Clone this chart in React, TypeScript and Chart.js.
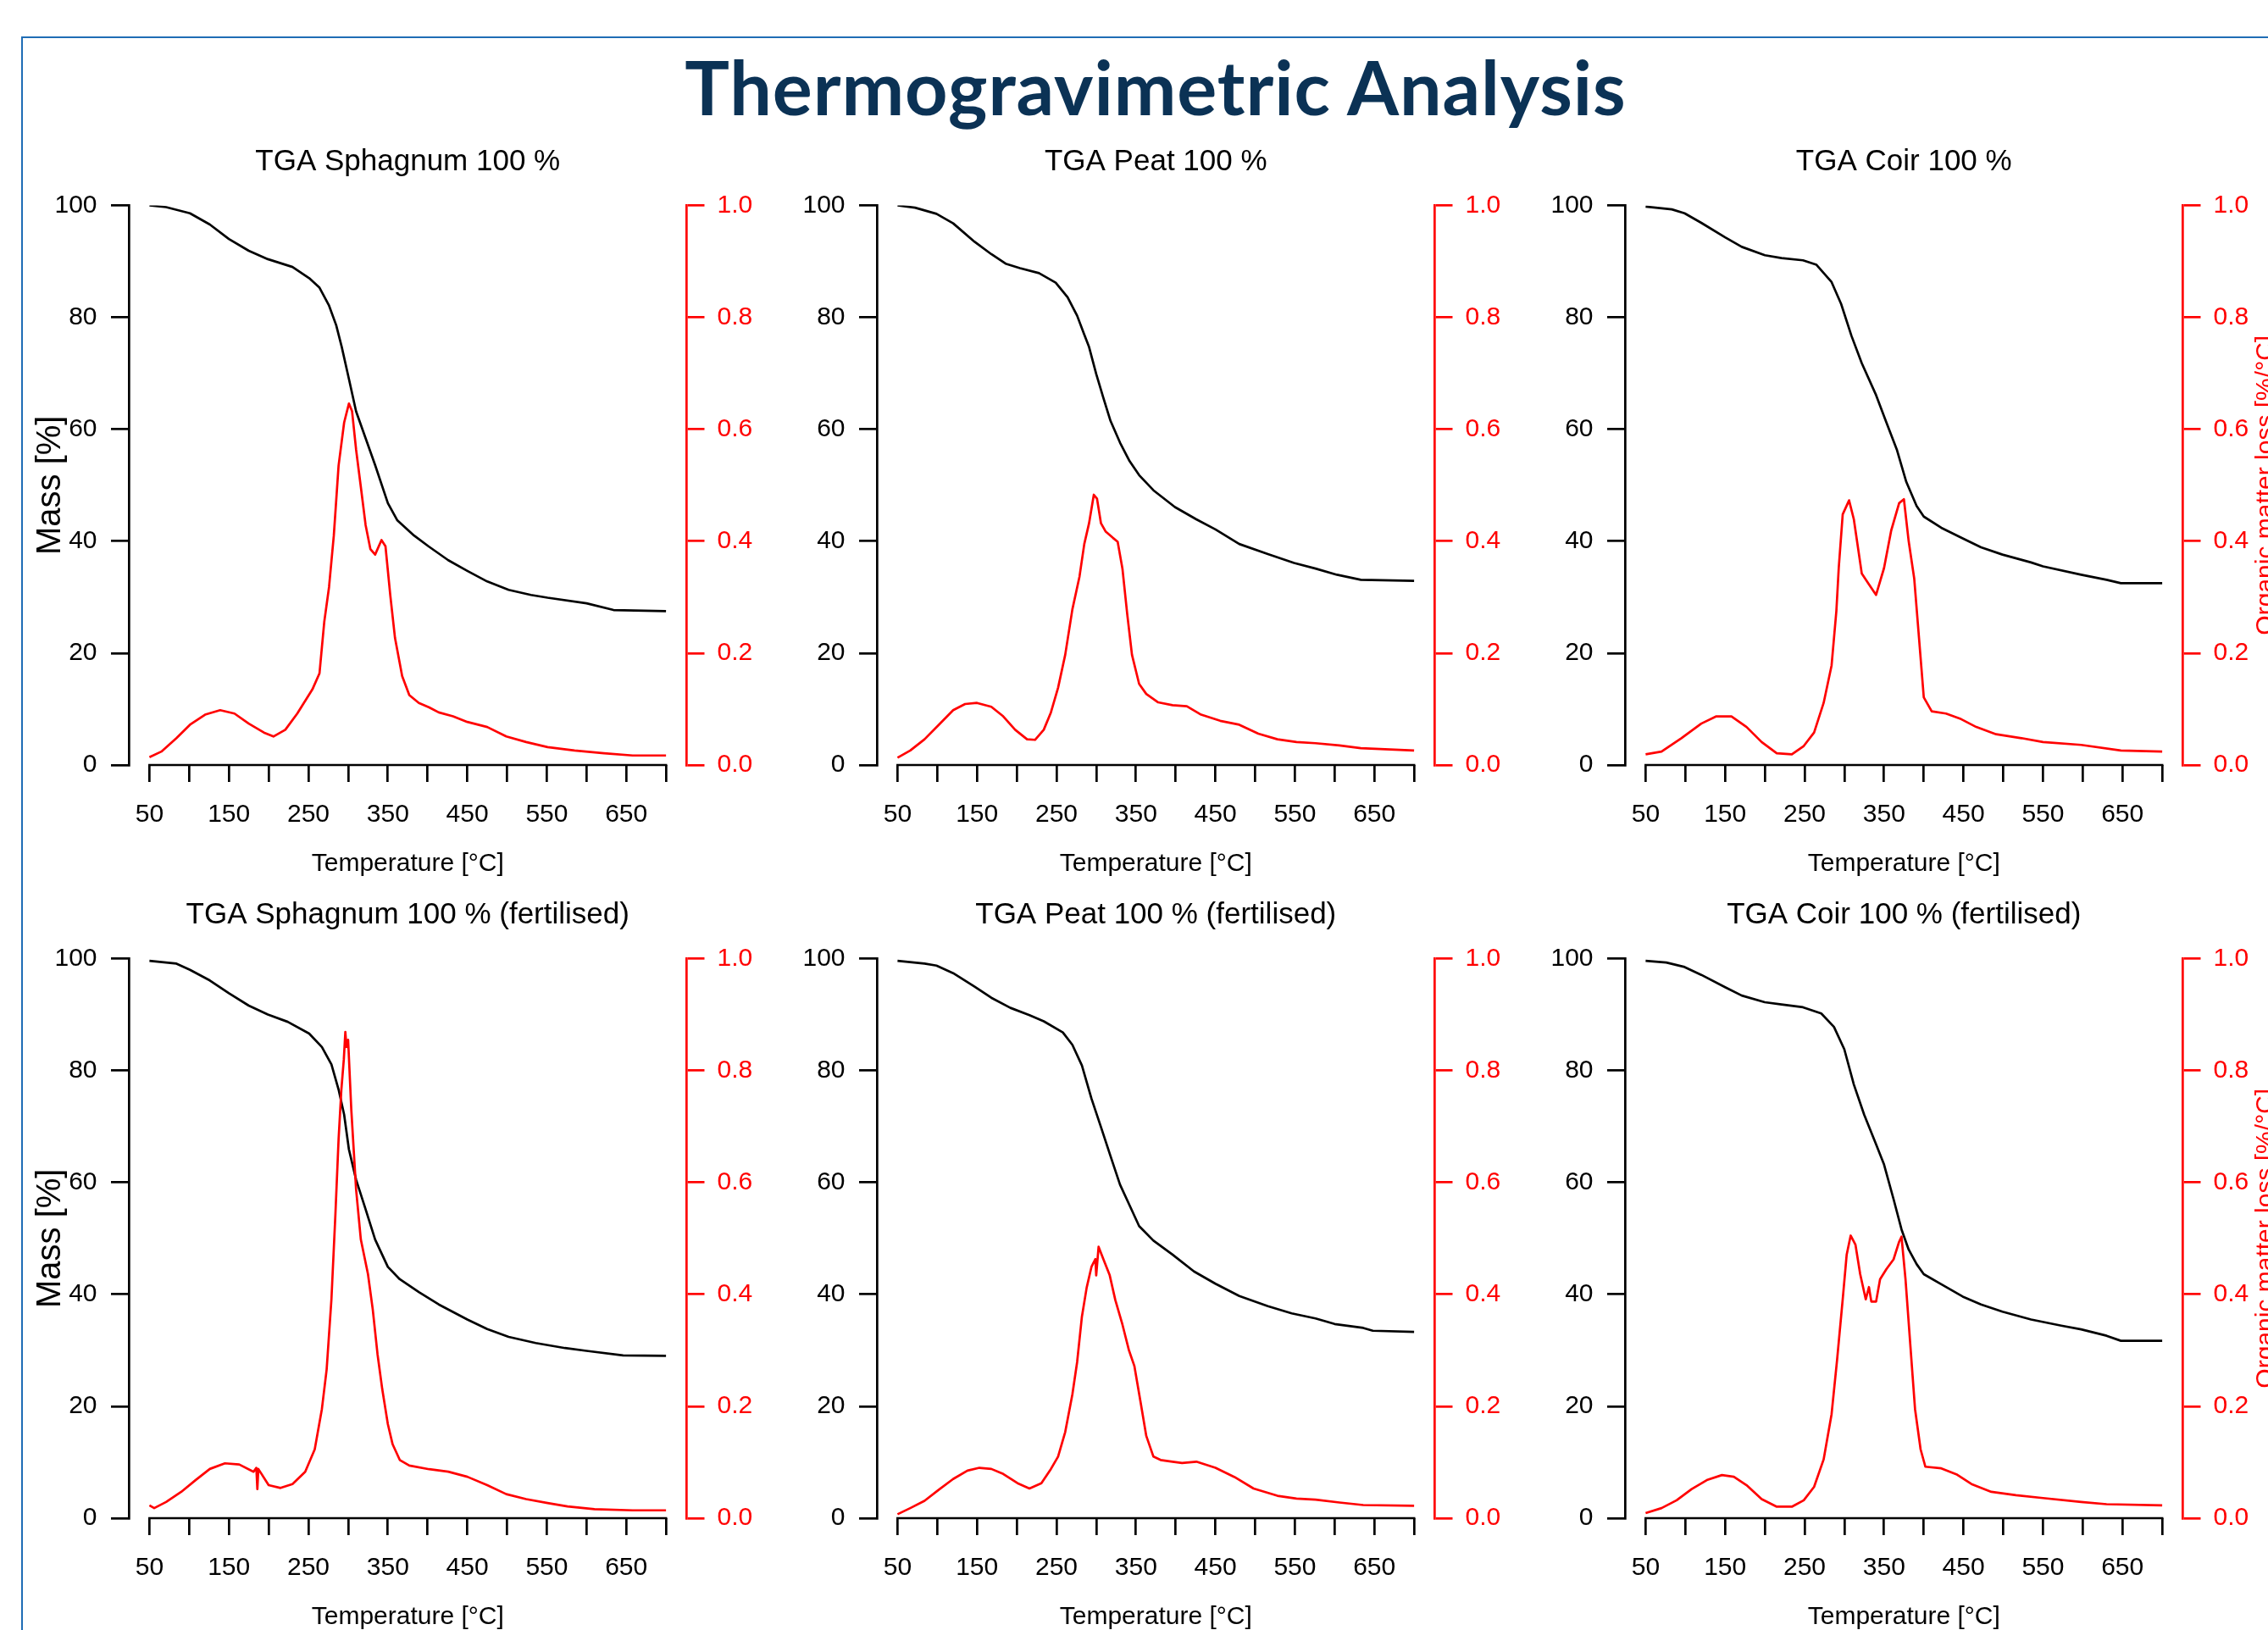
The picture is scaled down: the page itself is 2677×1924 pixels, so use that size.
import React, { useEffect, useRef } from 'react';
import { Chart, registerables } from 'chart.js';

Chart.register(...registerables);

const FONT = "'Liberation Sans', Arial, Helvetica, sans-serif";

// ---- axis ticks ----
const X_TICKS = [50, 100, 150, 200, 250, 300, 350, 400, 450, 500, 550, 600, 650, 700];
const X_LABELLED = [50, 150, 250, 350, 450, 550, 650];
const MASS_TICKS = [0, 20, 40, 60, 80, 100];
const DTG_TICKS = [0, 0.2, 0.4, 0.6, 0.8, 1.0];

const MAIN_TITLE = 'Thermogravimetric Analysis';
const PANEL_TITLES = [
  'TGA Sphagnum 100 %',
  'TGA Peat 100 %',
  'TGA Coir 100 %',
  'TGA Sphagnum 100 % (fertilised)',
  'TGA Peat 100 % (fertilised)',
  'TGA Coir 100 % (fertilised)',
];

// ---- Sphagnum 100 % ----
const SPH_T_MASS = [50, 71, 101, 126, 150, 175, 199, 230, 251, 264, 276, 285, 292, 301, 310, 322, 334, 350, 362, 383, 401, 426, 450, 475, 502, 530, 551, 600, 634, 700];
const SPH_MASS = [100, 99.7, 98.6, 96.6, 94.0, 91.9, 90.4, 89.0, 87.0, 85.3, 82.1, 78.6, 74.7, 69.0, 63.2, 58.4, 53.6, 46.8, 43.7, 41.0, 39.1, 36.6, 34.7, 32.8, 31.3, 30.4, 29.9, 28.9, 27.7, 27.5];
const SPH_T_DTG = [50, 65, 84, 101, 120, 139, 157, 175, 194, 206, 221, 236, 255, 264, 270, 276, 282, 288, 295, 301, 305, 310, 316, 322, 328, 334, 342, 347, 353, 359, 368, 377, 389, 402, 414, 432, 450, 475, 499, 524, 551, 585, 622, 658, 700];
const SPH_DTG = [0.014, 0.024, 0.048, 0.072, 0.090, 0.098, 0.092, 0.074, 0.058, 0.051, 0.063, 0.092, 0.135, 0.164, 0.256, 0.318, 0.41, 0.535, 0.612, 0.646, 0.632, 0.564, 0.497, 0.429, 0.386, 0.376, 0.402, 0.391, 0.304, 0.227, 0.159, 0.125, 0.111, 0.103, 0.094, 0.087, 0.077, 0.068, 0.051, 0.041, 0.032, 0.026, 0.021, 0.017, 0.017];

// ---- Peat 100 % ----
const PEAT_T_MASS = [50, 72, 99, 120, 147, 168, 186, 204, 228, 249, 264, 276, 285, 291, 300, 309, 318, 330, 342, 354, 372, 399, 426, 450, 480, 516, 549, 576, 603, 633, 700];
const PEAT_MASS = [100, 99.6, 98.5, 96.8, 93.5, 91.3, 89.6, 88.8, 87.9, 86.2, 83.6, 80.3, 76.9, 74.7, 69.9, 65.6, 61.5, 57.6, 54.3, 51.8, 49.1, 46.1, 43.9, 42.1, 39.5, 37.7, 36.1, 35.1, 34.0, 33.1, 32.9];
const PEAT_T_DTG = [50, 66, 84, 102, 120, 135, 150, 168, 183, 198, 213, 223, 234, 243, 252, 261, 270, 279, 285, 291, 297, 301, 306, 312, 321, 327, 333, 339, 345, 354, 363, 378, 396, 414, 432, 456, 480, 504, 528, 552, 576, 606, 633, 700];
const PEAT_DTG = [0.013, 0.026, 0.046, 0.072, 0.098, 0.109, 0.111, 0.104, 0.087, 0.063, 0.046, 0.045, 0.063, 0.094, 0.138, 0.197, 0.278, 0.337, 0.395, 0.432, 0.483, 0.476, 0.432, 0.417, 0.406, 0.399, 0.351, 0.270, 0.197, 0.145, 0.127, 0.112, 0.107, 0.105, 0.090, 0.079, 0.072, 0.056, 0.046, 0.041, 0.039, 0.035, 0.030, 0.026];

// ---- Coir 100 % ----
const COIR_T_MASS = [50, 83, 99, 120, 150, 171, 200, 221, 248, 265, 284, 296, 309, 322, 340, 353, 366, 378, 391, 400, 422, 449, 472, 499, 535, 550, 598, 630, 648, 700];
const COIR_MASS = [99.8, 99.3, 98.6, 96.9, 94.3, 92.6, 91.1, 90.6, 90.2, 89.4, 86.3, 82.4, 76.7, 71.8, 66.1, 61.2, 56.4, 50.6, 46.3, 44.4, 42.4, 40.5, 38.9, 37.6, 36.2, 35.5, 34.0, 33.1, 32.5, 32.5];
const COIR_T_DTG = [50, 70, 95, 120, 139, 158, 177, 196, 215, 234, 249, 262, 274, 284, 290, 293, 298, 306, 312, 322, 331, 340, 350, 359, 369, 375, 381, 388, 394, 400, 410, 428, 447, 466, 491, 523, 550, 598, 648, 700];
const COIR_DTG = [0.019, 0.024, 0.048, 0.074, 0.087, 0.087, 0.068, 0.041, 0.021, 0.019, 0.034, 0.058, 0.111, 0.178, 0.275, 0.352, 0.448, 0.473, 0.439, 0.342, 0.323, 0.304, 0.352, 0.419, 0.468, 0.475, 0.40, 0.333, 0.227, 0.121, 0.096, 0.092, 0.082, 0.068, 0.055, 0.048, 0.041, 0.036, 0.026, 0.024];

// ---- Sphagnum 100 % (fertilised) ----
const SPHF_T_MASS = [50, 84, 101, 126, 150, 175, 199, 224, 251, 267, 279, 288, 295, 301, 310, 322, 334, 350, 365, 389, 414, 450, 475, 502, 536, 573, 600, 646, 700];
const SPHF_MASS = [99.6, 99.1, 98.0, 96.1, 93.8, 91.6, 90.0, 88.7, 86.6, 84.2, 81.1, 76.6, 72.1, 65.9, 60.5, 55.2, 49.8, 44.9, 42.7, 40.4, 38.2, 35.5, 33.8, 32.4, 31.3, 30.4, 29.9, 29.1, 29.0];
const SPHF_T_DTG = [50, 56, 71, 90, 108, 126, 145, 163, 181, 184.5, 185.8, 187, 200, 215, 230, 246, 258, 267, 273, 279, 284, 288, 291.5, 294.6, 296.5, 298, 300, 304, 310, 316, 325, 331, 337, 343, 350, 356, 365, 377, 402, 426, 450, 475, 499, 524, 551, 576, 610, 658, 700];
const SPHF_DTG = [0.023, 0.018, 0.029, 0.047, 0.068, 0.088, 0.098, 0.096, 0.083, 0.090, 0.052, 0.088, 0.059, 0.054, 0.061, 0.083, 0.123, 0.195, 0.266, 0.391, 0.543, 0.677, 0.766, 0.82, 0.869, 0.842, 0.855, 0.73, 0.588, 0.498, 0.436, 0.373, 0.293, 0.230, 0.168, 0.132, 0.104, 0.094, 0.0875, 0.083, 0.074, 0.059, 0.043, 0.034, 0.027, 0.021, 0.016, 0.014, 0.014];

// ---- Peat 100 % (fertilised) ----
const PEATF_T_MASS = [50, 84, 99, 120, 147, 168, 192, 216, 234, 258, 270, 282, 294, 306, 318, 330, 342, 354, 372, 396, 423, 450, 480, 516, 546, 576, 600, 636, 648, 700];
const PEATF_MASS = [99.6, 99.1, 98.75, 97.4, 95.0, 93.0, 91.2, 89.9, 88.8, 86.8, 84.6, 80.9, 75.0, 69.9, 64.7, 59.6, 55.9, 52.2, 49.6, 47.1, 44.1, 41.9, 39.7, 37.9, 36.6, 35.7, 34.7, 34.0, 33.5, 33.3];
const PEATF_T_DTG = [50, 66, 84, 102, 120, 138, 153, 168, 183, 201, 216, 231, 243, 252, 261, 270, 276, 282, 288, 294, 299, 300, 303, 309, 317, 324, 333, 341, 348, 356, 363, 372, 381, 396, 408, 426, 450, 474, 498, 528, 552, 576, 606, 636, 700];
const PEATF_DTG = [0.007, 0.018, 0.031, 0.051, 0.070, 0.085, 0.090, 0.088, 0.079, 0.0625, 0.053, 0.0625, 0.088, 0.110, 0.154, 0.221, 0.279, 0.360, 0.412, 0.449, 0.463, 0.434, 0.485, 0.463, 0.434, 0.39, 0.346, 0.301, 0.272, 0.206, 0.147, 0.110, 0.104, 0.101, 0.0985, 0.101, 0.090, 0.0735, 0.053, 0.040, 0.035, 0.033, 0.028, 0.0235, 0.022];

// ---- Coir 100 % (fertilised) ----
const COIRF_T_MASS = [50, 76, 99, 120, 150, 171, 200, 221, 248, 271, 287, 300, 312, 325, 340, 350, 362, 372, 381, 391, 400, 422, 449, 472, 499, 535, 573, 598, 630, 648, 700];
const COIRF_MASS = [99.6, 99.3, 98.5, 97.1, 94.9, 93.4, 92.2, 91.8, 91.3, 90.2, 87.8, 83.8, 77.5, 72.1, 66.8, 63.2, 57.0, 51.6, 48.0, 45.4, 43.6, 41.8, 39.6, 38.2, 36.9, 35.5, 34.4, 33.75, 32.6, 31.7, 31.7];
const COIRF_T_DTG = [50, 70, 89, 108, 127, 146, 161, 177, 196, 215, 234, 249, 262, 274, 284, 291, 298, 303, 308, 314, 320, 327, 331, 334, 340, 345, 353, 362, 369, 372, 377, 383, 389, 396, 402, 422, 441, 460, 485, 516, 550, 598, 630, 700];
const COIRF_DTG = [0.009, 0.018, 0.032, 0.052, 0.068, 0.077, 0.074, 0.059, 0.034, 0.0205, 0.0205, 0.032, 0.056, 0.105, 0.186, 0.284, 0.391, 0.471, 0.505, 0.489, 0.436, 0.391, 0.413, 0.387, 0.387, 0.427, 0.445, 0.4625, 0.494, 0.503, 0.427, 0.311, 0.195, 0.123, 0.092, 0.089, 0.0785, 0.061, 0.047, 0.041, 0.036, 0.029, 0.025, 0.023];

const PANELS = [
  { title: PANEL_TITLES[0], tMass: SPH_T_MASS, mass: SPH_MASS, tDtg: SPH_T_DTG, dtg: SPH_DTG },
  { title: PANEL_TITLES[1], tMass: PEAT_T_MASS, mass: PEAT_MASS, tDtg: PEAT_T_DTG, dtg: PEAT_DTG },
  { title: PANEL_TITLES[2], tMass: COIR_T_MASS, mass: COIR_MASS, tDtg: COIR_T_DTG, dtg: COIR_DTG },
  { title: PANEL_TITLES[3], tMass: SPHF_T_MASS, mass: SPHF_MASS, tDtg: SPHF_T_DTG, dtg: SPHF_DTG },
  { title: PANEL_TITLES[4], tMass: PEATF_T_MASS, mass: PEATF_MASS, tDtg: PEATF_T_DTG, dtg: PEATF_DTG },
  { title: PANEL_TITLES[5], tMass: COIRF_T_MASS, mass: COIRF_MASS, tDtg: COIRF_T_DTG, dtg: COIRF_DTG },
];

// ---- layout (px) ----
const CANVAS_W = 930;
const CANVAS_H = 905;
const COL_STEP = 883;
const ROW_STEP = 888.5;
const LEFT_AXIS_W = 137;
const RIGHT_AXIS_W = 134.5;
const X_AXIS_H = 143;
const AXIS_LW = 2.7;

const xAxisLinePlugin = {
  id: 'rAxisLine',
  afterDraw(chart: any) {
    const { ctx, chartArea } = chart;
    const xs = chart.scales.x;
    const x0 = xs.getPixelForValue(X_TICKS[0]);
    const x1 = xs.getPixelForValue(X_TICKS[X_TICKS.length - 1]);
    ctx.save();
    ctx.strokeStyle = '#000000';
    ctx.lineWidth = AXIS_LW;
    ctx.beginPath();
    ctx.moveTo(x0 - AXIS_LW / 2, chartArea.bottom);
    ctx.lineTo(x1 + AXIS_LW / 2, chartArea.bottom);
    ctx.stroke();
    ctx.restore();
  },
};

const rightLabelPlugin = {
  id: 'rightLabel',
  afterDraw(chart: any, _args: any, opts: any) {
    if (!opts || !opts.text) return;
    const { ctx, chartArea } = chart;
    ctx.save();
    ctx.font = `30px ${FONT}`;
    ctx.fillStyle = '#ff0000';
    ctx.textAlign = 'center';
    ctx.textBaseline = 'alphabetic';
    ctx.translate(chartArea.right + 106, (chartArea.top + chartArea.bottom) / 2);
    ctx.rotate(-Math.PI / 2);
    ctx.fillText(opts.text, 0, 0);
    ctx.restore();
  },
};

function Panel({ index }: { index: number }) {
  const ref = useRef<HTMLCanvasElement | null>(null);
  const col = index % 3;
  const row = Math.floor(index / 3);
  const p = PANELS[index];

  useEffect(() => {
    if (!ref.current) return;
    const massPts = p.tMass.map((t, i) => ({ x: t, y: p.mass[i] }));
    const dtgPts = p.tDtg.map((t, i) => ({ x: t, y: p.dtg[i] }));
    const tickFont = { family: FONT, size: 30, weight: 'normal' as const };
    const chart = new Chart(ref.current, {
      type: 'line',
      data: {
        datasets: [
          {
            label: 'Organic matter loss',
            data: dtgPts,
            yAxisID: 'y1',
            borderColor: '#ff0000',
            borderWidth: 2.7,
            pointRadius: 0,
            tension: 0,
            fill: false,
            borderJoinStyle: 'round',
          },
          {
            label: 'Mass',
            data: massPts,
            yAxisID: 'y',
            borderColor: '#000000',
            borderWidth: 2.7,
            pointRadius: 0,
            tension: 0,
            fill: false,
            borderJoinStyle: 'round',
          },
        ],
      },
      options: {
        responsive: false,
        animation: false,
        events: [],
        layout: { padding: 0 },
        scales: {
          x: {
            type: 'linear',
            position: 'bottom',
            min: 24,
            max: 726,
            afterBuildTicks: (s: any) => {
              s.ticks = X_TICKS.map((v) => ({ value: v }));
            },
            afterFit: (s: any) => {
              s.height = X_AXIS_H;
            },
            ticks: {
              autoSkip: false,
              maxRotation: 0,
              minRotation: 0,
              padding: 21,
              color: '#000000',
              font: tickFont,
              callback: (v: any) => (X_LABELLED.includes(Number(v)) ? String(v) : ''),
            },
            grid: { drawOnChartArea: false, drawTicks: true, tickLength: 20, color: '#000000', lineWidth: AXIS_LW },
            border: { display: false },
            title: {
              display: true,
              text: 'Temperature [°C]',
              color: '#000000',
              font: { family: FONT, size: 30, weight: 'normal' },
              padding: { top: 0, bottom: 8.5 },
            },
          },
          y: {
            type: 'linear',
            position: 'left',
            min: 0,
            max: 100,
            afterBuildTicks: (s: any) => {
              s.ticks = MASS_TICKS.map((v) => ({ value: v }));
            },
            afterFit: (s: any) => {
              s.width = LEFT_AXIS_W;
            },
            ticks: { padding: 16.5, color: '#000000', font: tickFont, callback: (v: any) => String(v) },
            grid: { drawOnChartArea: false, drawTicks: true, tickLength: 21, color: '#000000', lineWidth: AXIS_LW },
            border: { display: true, color: '#000000', width: AXIS_LW },
            title: {
              display: col === 0,
              text: 'Mass [%]',
              color: '#000000',
              font: { family: FONT, size: 40, weight: 'normal' },
              padding: { top: 21, bottom: 0 },
            },
          },
          y1: {
            type: 'linear',
            position: 'right',
            min: 0,
            max: 1,
            afterBuildTicks: (s: any) => {
              s.ticks = DTG_TICKS.map((v) => ({ value: v }));
            },
            afterFit: (s: any) => {
              s.width = RIGHT_AXIS_W;
            },
            ticks: { padding: 15, color: '#ff0000', font: tickFont, callback: (v: any) => Number(v).toFixed(1) },
            grid: { drawOnChartArea: false, drawTicks: true, tickLength: 21, color: '#ff0000', lineWidth: AXIS_LW },
            border: { display: true, color: '#ff0000', width: AXIS_LW },
          },
        },
        plugins: {
          legend: { display: false },
          tooltip: { enabled: false },
          title: {
            display: true,
            text: p.title,
            fullSize: false,
            color: '#000000',
            font: { family: FONT, size: 35, weight: 'normal' },
            padding: { top: 29.5, bottom: 30 },
          },
          rightLabel: { text: col === 2 ? 'Organic matter loss [%/°C]' : '' },
        } as any,
      },
      plugins: [xAxisLinePlugin, rightLabelPlugin],
    } as any);
    return () => chart.destroy();
  }, [index]);

  const left = 15 + COL_STEP * col;
  const top = 141 + ROW_STEP * row;
  return (
    <canvas
      ref={ref}
      width={CANVAS_W}
      height={CANVAS_H}
      style={{ position: 'absolute', left, top, width: CANVAS_W, height: CANVAS_H }}
    />
  );
}

export default function App() {
  return (
    <div
      style={{
        position: 'fixed',
        left: 0,
        top: 0,
        width: 2677,
        height: 1924,
        overflow: 'hidden',
        background: '#ffffff',
      }}
    >
      <div
        style={{
          position: 'absolute',
          left: 25,
          top: 43,
          width: 3000,
          height: 3000,
          borderTop: '2.5px solid #1f6db5',
          borderLeft: '2.5px solid #1f6db5',
        }}
      />
      <div
        style={{
          position: 'absolute',
          left: 564,
          width: 1600,
          top: 58,
          textAlign: 'center',
          fontFamily: 'Lato, "Open Sans", sans-serif',
          fontWeight: 700,
          fontSize: 88,
          lineHeight: '88px',
          letterSpacing: '0.9px',
          color: '#0b3255',
          whiteSpace: 'nowrap',
        }}
      >
        {MAIN_TITLE}
      </div>
      {PANELS.map((_, i) => (
        <Panel key={i} index={i} />
      ))}
    </div>
  );
}
